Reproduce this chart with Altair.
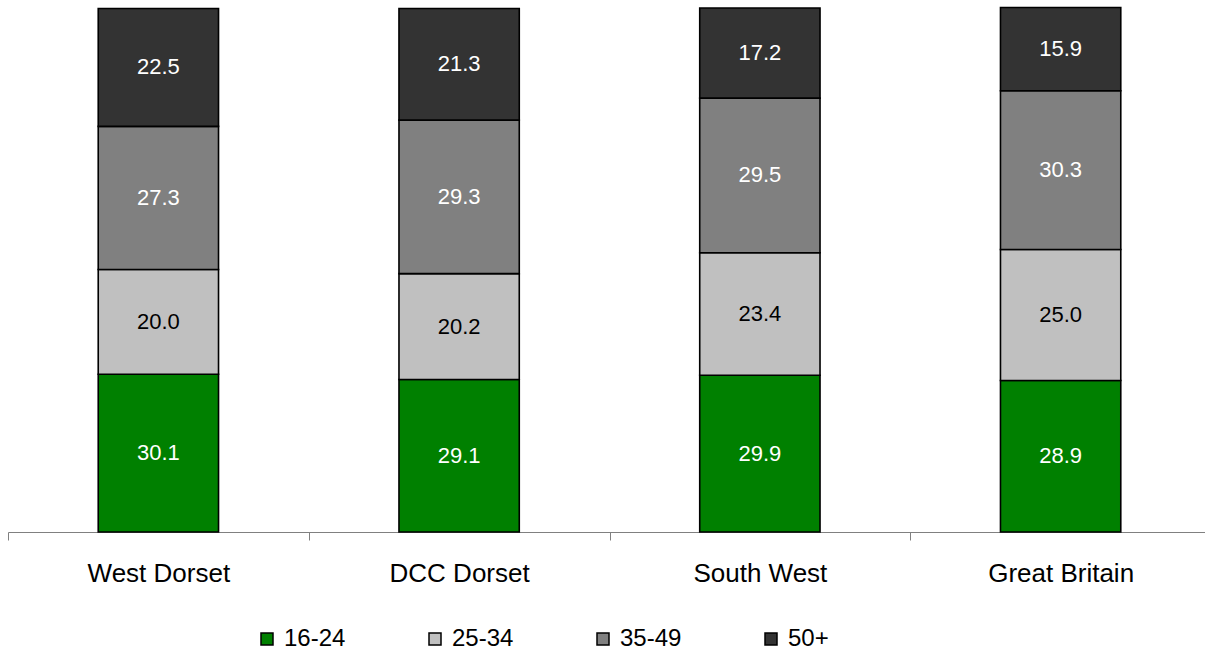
import altair as alt
import pandas as pd

# Stacked shares (%) by age group for each area
regions = ["West Dorset", "DCC Dorset", "South West", "Great Britain"]
age_groups = ["16-24", "25-34", "35-49", "50+"]
share_16_24 = [30.1, 29.1, 29.9, 28.9]
share_25_34 = [20.0, 20.2, 23.4, 25.0]
share_35_49 = [27.3, 29.3, 29.5, 30.3]
share_50_plus = [22.5, 21.3, 17.2, 15.9]
group_colors = ["#008000", "#C0C0C0", "#808080", "#333333"]

series = [share_16_24, share_25_34, share_35_49, share_50_plus]
rows = []
for i, region in enumerate(regions):
    for j, group in enumerate(age_groups):
        rows.append({"region": region, "group": group, "order": j, "value": series[j][i]})
df = pd.DataFrame(rows)

FONT = "Liberation Sans"

# Each category owns a full band; ticks sit on the band boundaries
x_enc = alt.X(
    "region:N",
    sort=regions,
    title=None,
    scale=alt.Scale(range=[0, 1203], paddingInner=0, paddingOuter=0),
    axis=alt.Axis(
        labelAngle=0,
        labelFont=FONT,
        labelFontSize=26,
        labelColor="black",
        labelPadding=20,
        domainColor="#808080",
        domainWidth=1,
        tickColor="#808080",
        tickWidth=1,
        tickSize=8,
        tickBand="extent",
    ),
)
y_scale = alt.Scale(domain=[0, 100], nice=False, zero=True)

base = (
    alt.Chart(df)
    .transform_stack(
        stack="value",
        groupby=["region"],
        as_=["y0", "y1"],
        sort=[alt.SortField("order", order="ascending")],
    )
    .transform_calculate(mid="(datum.y0 + datum.y1) / 2")
)

bars = base.mark_bar(
    stroke="black", strokeWidth=1.6, width=alt.RelativeBandSize(0.4)
).encode(
    x=x_enc,
    y=alt.Y("y0:Q", scale=y_scale, axis=None),
    y2="y1:Q",
    color=alt.Color(
        "group:N",
        sort=age_groups,
        scale=alt.Scale(domain=age_groups, range=group_colors),
        legend=alt.Legend(
            title=None,
            orient="none",
            legendX=247,
            legendY=619,
            direction="horizontal",
            columns=4,
            gridAlign="all",
            columnPadding=77,
            padding=0,
            symbolType="square",
            symbolSize=144,
            symbolStrokeColor="black",
            symbolStrokeWidth=1.5,
            symbolOpacity=1,
            labelFont=FONT,
            labelFontSize=24,
            labelColor="black",
            labelOffset=5,
        ),
    ),
)

labels = base.mark_text(font=FONT, fontSize=22, baseline="middle", align="center").encode(
    x=x_enc,
    y=alt.Y("mid:Q", scale=y_scale, axis=None),
    text=alt.Text("value:Q", format=".1f"),
    color=alt.condition("datum.group == '25-34'", alt.value("black"), alt.value("white")),
)

chart = (
    alt.layer(bars, labels)
    .properties(
        width=1197,
        height=524,
        autosize=alt.AutoSizeParams(type="none"),
        padding={"left": 8, "top": 8, "right": 0, "bottom": 121},
        background="white",
    )
    .configure_view(stroke=None)
)

chart.save("out.html", embed_options={"renderer": "svg", "actions": False})
